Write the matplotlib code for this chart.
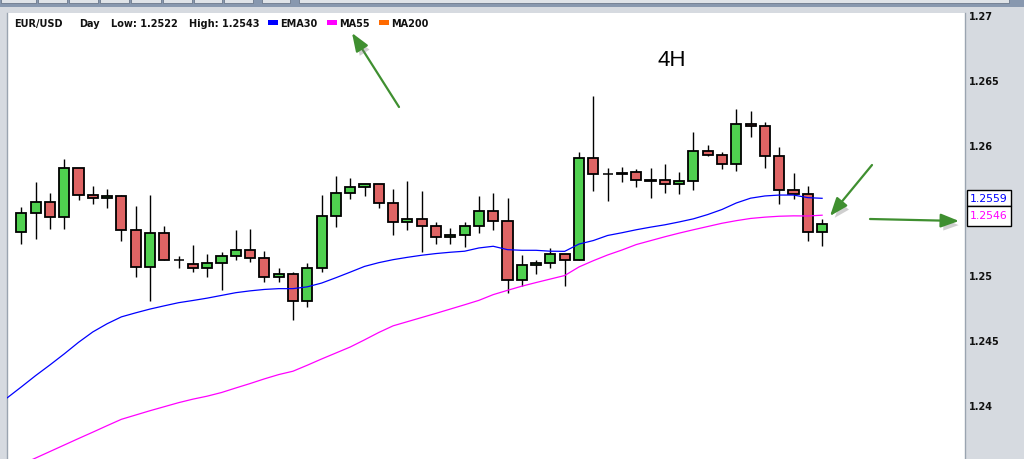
"""
EUR/USD 4H candlestick chart with EMA30 / MA55 overlays
========================================================

Trading-platform style screenshot: candles, two moving averages,
right-hand price scale with value boxes and a few green arrows.
"""

import matplotlib
matplotlib.use("Agg")
import matplotlib.pyplot as plt
import matplotlib.patheffects as pe
from matplotlib.patches import Rectangle, FancyArrowPatch
from matplotlib.transforms import blended_transform_factory
import numpy as np


# =============================================================================
# Data
# =============================================================================

OPENS = [
    1.25328, 1.25475, 1.25559, 1.25444, 1.25821, 1.25613, 1.25590, 1.25605, 1.25346, 1.25059,
    1.25321, 1.25113, 1.25082, 1.25052, 1.25090, 1.25144, 1.25192, 1.25131, 1.24982, 1.25008,
    1.24802, 1.25054, 1.25452, 1.25628, 1.25675, 1.25698, 1.25552, 1.25405, 1.25428, 1.25375,
    1.25290, 1.25305, 1.25375, 1.25490, 1.25413, 1.24959, 1.25075, 1.25090, 1.25159, 1.25113,
    1.25898, 1.25775, 1.25782, 1.25790, 1.25728, 1.25728, 1.25698, 1.25721, 1.25952, 1.25921,
    1.25852, 1.26159, 1.26144, 1.25913, 1.25652, 1.25621, 1.25328,
]
HIGHS = [
    1.25523, 1.25715, 1.25631, 1.25892, 1.25821, 1.25685, 1.25662, 1.25615, 1.25531, 1.25615,
    1.25375, 1.25148, 1.25231, 1.25162, 1.25177, 1.25346, 1.25354, 1.25185, 1.25056, 1.25025,
    1.25092, 1.25615, 1.25762, 1.25746, 1.25698, 1.25698, 1.25662, 1.25723, 1.25646, 1.25408,
    1.25359, 1.25408, 1.25608, 1.25631, 1.25592, 1.25152, 1.25113, 1.25208, 1.25159, 1.25944,
    1.26379, 1.25823, 1.25831, 1.25813, 1.25821, 1.25852, 1.25790, 1.26098, 1.25998, 1.25944,
    1.26275, 1.26259, 1.26175, 1.25982, 1.25782, 1.25682, 1.25430,
]
LOWS = [
    1.25241, 1.25279, 1.25356, 1.25352, 1.25579, 1.25548, 1.25518, 1.25259, 1.24982, 1.24802,
    1.25113, 1.25052, 1.25025, 1.24982, 1.24887, 1.25118, 1.25102, 1.24948, 1.24948, 1.24654,
    1.24756, 1.25021, 1.25372, 1.25587, 1.25610, 1.25518, 1.25310, 1.25348, 1.25179, 1.25241,
    1.25241, 1.25218, 1.25325, 1.25348, 1.24859, 1.24913, 1.25008, 1.25052, 1.24918, 1.25113,
    1.25644, 1.25572, 1.25713, 1.25675, 1.25590, 1.25628, 1.25621, 1.25652, 1.25913, 1.25813,
    1.25798, 1.26059, 1.25821, 1.25544, 1.25582, 1.25259, 1.25220,
]
CLOSES = [
    1.25475, 1.25559, 1.25444, 1.25821, 1.25613, 1.25590, 1.25605, 1.25346, 1.25059, 1.25321,
    1.25113, 1.25113, 1.25052, 1.25090, 1.25146, 1.25192, 1.25128, 1.24982, 1.25008, 1.24802,
    1.25054, 1.25452, 1.25628, 1.25675, 1.25698, 1.25552, 1.25405, 1.25428, 1.25375, 1.25290,
    1.25305, 1.25375, 1.25490, 1.25413, 1.24959, 1.25075, 1.25090, 1.25159, 1.25113, 1.25898,
    1.25775, 1.25775, 1.25775, 1.25728, 1.25721, 1.25698, 1.25721, 1.25952, 1.25921, 1.25852,
    1.26159, 1.26144, 1.25913, 1.25652, 1.25621, 1.25328, 1.25390,
]

# moving averages start one bar before the first visible candle
EMA30 = [
    1.24054, 1.24139, 1.24226, 1.24308, 1.24393, 1.24482, 1.24562, 1.24625, 1.24678, 1.24709,
    1.24738, 1.24763, 1.24787, 1.24804, 1.24822, 1.24843, 1.24864, 1.24878, 1.24889, 1.24895,
    1.24895, 1.24909, 1.24938, 1.24979, 1.25022, 1.25066, 1.25095, 1.25118, 1.25136, 1.25152,
    1.25165, 1.25175, 1.25183, 1.25208, 1.25221, 1.25195, 1.25190, 1.25190, 1.25183, 1.25182,
    1.25238, 1.25265, 1.25304, 1.25325, 1.25348, 1.25368, 1.25386, 1.25408, 1.25432, 1.25465,
    1.25504, 1.25554, 1.25591, 1.25608, 1.25615, 1.25615, 1.25595, 1.25590,
]
MA55 = [
    1.23492, 1.23543, 1.23592, 1.23642, 1.23692, 1.23742, 1.23791, 1.23841, 1.23890, 1.23923,
    1.23956, 1.23987, 1.24018, 1.24045, 1.24068, 1.24096, 1.24131, 1.24165, 1.24201, 1.24234,
    1.24260, 1.24306, 1.24354, 1.24400, 1.24446, 1.24501, 1.24558, 1.24609, 1.24641, 1.24673,
    1.24705, 1.24738, 1.24771, 1.24805, 1.24849, 1.24882, 1.24914, 1.24942, 1.24969, 1.24996,
    1.25062, 1.25110, 1.25154, 1.25192, 1.25234, 1.25264, 1.25294, 1.25322, 1.25348, 1.25373,
    1.25398, 1.25418, 1.25435, 1.25445, 1.25452, 1.25455, 1.25454, 1.25460,
]

Y_TICKS = [1.24, 1.245, 1.25, 1.26, 1.265, 1.27]
Y_TICK_LABELS = ["1.24", "1.245", "1.25", "1.26", "1.265", "1.27"]

HEADER_TEXTS = ["EUR/USD", "Day", "Low: 1.2522", "High: 1.2543"]
LEGEND_NAMES = ["EMA30", "MA55", "MA200"]
LEGEND_COLORS = ["#0000ff", "#ff00ff", "#ff6a00"]
TIMEFRAME = "4H"


# =============================================================================
# Layout / style
# =============================================================================

W, H = 1024, 460
PLOT_LEFT, PLOT_RIGHT, PLOT_TOP = 7, 965, 14
PX_PER_BAR = 14.3
PRICE_PER_PX = 0.005 / 65
Y_TOP = 1.27 + (16 - PLOT_TOP) * PRICE_PER_PX
Y_BOTTOM = 1.27 - (H - 16) * PRICE_PER_PX

FRAME_GREY = "#d6dae0"
GREEN = "#4fd04f"
RED = "#df6464"
ARROW_GREEN = "#3f8f30"
FONT = "DejaVu Sans"


def fx(x):
    return x / W


def fy(y):
    return 1 - y / H


def draw_candles(ax):
    xs = np.arange(len(OPENS))
    ax.vlines(xs, LOWS, HIGHS, color="black", lw=1.0, zorder=2)
    half = 0.35
    for x, o, c in zip(xs, OPENS, CLOSES):
        if abs(c - o) < 1e-6:
            # doji: plain cross
            ax.hlines(o, x - half, x + half, color="black", lw=1.1, zorder=3)
            continue
        face = GREEN if c > o else RED
        ax.add_patch(Rectangle((x - half, min(o, c)), 2 * half, abs(c - o),
                               facecolor=face, edgecolor="black", lw=1.3, zorder=3))


def draw_header(fig):
    # header texts and legend, positions in screen pixels
    for text, x in zip(HEADER_TEXTS, [14, 79, 111, 189]):
        fig.text(fx(x), fy(27.3), text, fontsize=7, fontweight="bold",
                 family=FONT, color="#111111", va="baseline")
    for name, color, x in zip(LEGEND_NAMES, LEGEND_COLORS, [268, 327, 379]):
        fig.patches.append(Rectangle((fx(x), fy(26)), 9.5 / W, 5 / H,
                                     transform=fig.transFigure, facecolor=color,
                                     edgecolor="none"))
        fig.text(fx(x + 12.5), fy(27.3), name, fontsize=7, fontweight="bold",
                 family=FONT, color="#111111", va="baseline")


def draw_arrow(fig, tail, head):
    arrow = FancyArrowPatch(
        (fx(tail[0]), fy(tail[1])), (fx(head[0]), fy(head[1])),
        transform=fig.transFigure,
        arrowstyle="-|>,head_length=1.0,head_width=0.38",
        mutation_scale=11, lw=1.6, color=ARROW_GREEN, shrinkA=0, shrinkB=0,
        path_effects=[pe.withSimplePatchShadow(offset=(2, -3), shadow_rgbFace="#777777",
                                               alpha=0.35)],
    )
    fig.patches.append(arrow)


def main():
    fig = plt.figure(figsize=(W / 100, H / 100), dpi=100, facecolor=FRAME_GREY)

    # window chrome along the top
    fig.patches.append(Rectangle((0, fy(8)), 1, 8 / H, transform=fig.transFigure,
                                 facecolor="#8898af", edgecolor="none"))
    for x0, x1 in [(0, 37), (37, 68), (68, 99), (99, 130), (130, 162), (162, 193),
                   (193, 223), (223, 254), (261, 291), (298, 1010)]:
        fig.patches.append(Rectangle((fx(x0 + 1), fy(3.5)), (x1 - x0 - 2) / W, 3.5 / H,
                                     transform=fig.transFigure, facecolor="#dfe3e8",
                                     edgecolor="#6d7a8c", lw=0.6))

    ax = fig.add_axes([fx(PLOT_LEFT), 0, (PLOT_RIGHT - PLOT_LEFT) / W, (H - PLOT_TOP) / H])
    ax.set_facecolor("white")
    ax.set_xlim(-1, (PLOT_RIGHT - PLOT_LEFT) / PX_PER_BAR - 1)
    ax.set_ylim(Y_BOTTOM, Y_TOP)
    for side in ("top", "bottom"):
        ax.spines[side].set_visible(False)
    for side in ("left", "right"):
        ax.spines[side].set_color("#9aa4b0")
        ax.spines[side].set_linewidth(1.0)
    ax.set_xticks([])

    ax.yaxis.tick_right()
    ax.set_yticks(Y_TICKS)
    ax.set_yticklabels(Y_TICK_LABELS, fontsize=7, fontweight="bold", family=FONT,
                       color="#111111")
    ax.tick_params(axis="y", length=0, pad=3)

    draw_candles(ax)

    ma_x = np.arange(-1, len(OPENS))
    ax.plot(ma_x, EMA30, color="#0000ff", lw=0.9, zorder=4)
    ax.plot(ma_x, MA55, color="#ff00ff", lw=0.9, zorder=4)

    # current-value boxes on the price scale
    trans = blended_transform_factory(fig.transFigure, ax.transData)
    box1_lo = EMA30[-1] - 7.4 * PRICE_PER_PX
    box1_hi = EMA30[-1] + 8.0 * PRICE_PER_PX
    box2_lo = box1_lo - 20 * PRICE_PER_PX
    for lo, hi, val, color in [(box1_lo, box1_hi, EMA30[-1], "#0000ff"),
                               (box2_lo, box1_lo, MA55[-1], "#ff00ff")]:
        ax.add_patch(Rectangle((fx(967), lo), 43.5 / W, hi - lo, transform=trans,
                               facecolor="white", edgecolor="black", lw=1.0,
                               clip_on=False, zorder=6))
        ax.text(fx(970), val, f"{val:.4f}", transform=trans, fontsize=7.8,
                family=FONT, color=color, va="center", ha="left", clip_on=False,
                zorder=7)

    fig.text(fx(672), fy(61), TIMEFRAME, fontsize=16, family="Liberation Sans",
             color="black", ha="center", va="center")

    draw_header(fig)

    draw_arrow(fig, (399, 108), (352, 34))
    draw_arrow(fig, (872, 166), (830, 217))
    draw_arrow(fig, (870, 220), (959, 222))

    fig.savefig("out.png", dpi=100, facecolor=FRAME_GREY)


if __name__ == "__main__":
    main()
